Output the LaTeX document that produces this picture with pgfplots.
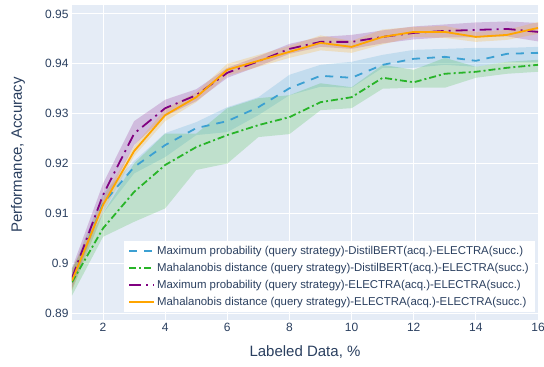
\documentclass[border=0pt]{standalone}
\usepackage{fontspec}
\setmainfont{Liberation Sans}
\usepackage{pgfplots}
\pgfplotsset{compat=1.18}
\usepgfplotslibrary{fillbetween}
\usepackage{pgfplotstable}

\definecolor{bgc}{RGB}{229,236,246}
\definecolor{txt}{RGB}{42,63,95}
\definecolor{cblue}{RGB}{60,160,210}
\definecolor{cgreen}{RGB}{40,180,40}
\definecolor{cpurple}{RGB}{128,0,128}
\definecolor{corange}{RGB}{255,165,0}

\pgfplotstableread{
x m lo hi
1 0.8965 0.8945 0.8985
2 0.9120 0.9100 0.9140
3 0.9193 0.9180 0.9205
4 0.9237 0.9213 0.9261
5 0.9271 0.9257 0.9283
6 0.9285 0.9263 0.9313
7 0.9313 0.9297 0.9333
8 0.9351 0.9337 0.9378
9 0.9376 0.9354 0.9398
10 0.9372 0.9352 0.9404
11 0.9398 0.9392 0.9418
12 0.9410 0.9392 0.9428
13 0.9414 0.9398 0.9430
14 0.9406 0.9394 0.9432
15 0.9420 0.9404 0.9432
16 0.9422 0.9404 0.9434
}\tblue

\pgfplotstableread{
x m lo hi
1 0.8962 0.8935 0.8990
2 0.9070 0.9053 0.9100
3 0.9143 0.9083 0.9200
4 0.9197 0.9110 0.9260
5 0.9233 0.9187 0.9260
6 0.9257 0.9200 0.9311
7 0.9277 0.9253 0.9331
8 0.9293 0.9259 0.9337
9 0.9323 0.9307 0.9361
10 0.9333 0.9311 0.9353
11 0.9372 0.9350 0.9398
12 0.9363 0.9352 0.9388
13 0.9380 0.9352 0.9412
14 0.9384 0.9372 0.9394
15 0.9392 0.9380 0.9404
16 0.9398 0.9384 0.9408
}\tgreen

\pgfplotstableread{
x m lo hi
1 0.8970 0.8950 0.8990
2 0.9137 0.9115 0.9160
3 0.9260 0.9237 0.9285
4 0.9311 0.9295 0.9328
5 0.9337 0.9325 0.9349
6 0.9382 0.9372 0.9392
7 0.9405 0.9395 0.9415
8 0.9430 0.9420 0.9440
9 0.9444 0.9434 0.9454
10 0.9444 0.9430 0.9458
11 0.9454 0.9441 0.9467
12 0.9462 0.9449 0.9475
13 0.9466 0.9453 0.9479
14 0.9468 0.9453 0.9483
15 0.9470 0.9455 0.9485
16 0.9464 0.9445 0.9482
}\tpurple

\pgfplotstableread{
x m lo hi
1 0.8965 0.8945 0.8985
2 0.9117 0.9102 0.9132
3 0.9225 0.9215 0.9235
4 0.9297 0.9285 0.9309
5 0.9333 0.9323 0.9343
6 0.9388 0.9376 0.9400
7 0.9406 0.9394 0.9418
8 0.9424 0.9412 0.9436
9 0.9442 0.9427 0.9457
10 0.9434 0.9422 0.9446
11 0.9454 0.9439 0.9469
12 0.9464 0.9454 0.9474
13 0.9464 0.9452 0.9476
14 0.9454 0.9444 0.9464
15 0.9458 0.9448 0.9468
16 0.9472 0.9460 0.9484
}\torange

\begin{document}
\begin{tikzpicture}
\begin{axis}[
  width=466pt, height=315pt, scale only axis,
  xmin=1, xmax=16, ymin=0.8886, ymax=0.9518,
  axis background/.style={fill=bgc},
  axis line style={draw=none},
  grid=major, major grid style={white, line width=1pt},
  tick style={draw=none},
  xtick={2,4,6,8,10,12,14,16},
  ytick={0.89,0.90,0.91,0.92,0.93,0.94,0.95},
  yticklabels={0.89,0.9,0.91,0.92,0.93,0.94,0.95},
  /pgf/number format/assume math mode=true,
  ticklabel style={font=\fontsize{12}{14}\selectfont, text=txt},
  xlabel={Labeled Data, \%},
  ylabel={Performance, Accuracy},
  label style={font=\fontsize{15}{18}\selectfont, text=txt},
  xlabel style={at={(axis description cs:0.5,-0.1016)}, anchor=center},
  ylabel style={at={(axis description cs:-0.1159,0.524)}, anchor=center},
  legend style={at={(0.9936,0.025)}, anchor=south east, fill=white, draw=none,
    font=\fontsize{11.4}{13}\selectfont, text=txt, row sep=3.3pt, inner xsep=4pt, inner ysep=3pt},
  legend cell align=left,
  legend image code/.code={\draw[#1, line width=1.8pt] (0pt,0pt) -- (25pt,0pt);},
]
% bands
\addplot[draw=none, name path=bu, forget plot] table[x=x,y=hi]{\tblue};
\addplot[draw=none, name path=bl, forget plot] table[x=x,y=lo]{\tblue};
\addplot[fill=cblue, fill opacity=0.2, draw=none, forget plot] fill between[of=bu and bl];
\addplot[draw=none, name path=gu, forget plot] table[x=x,y=hi]{\tgreen};
\addplot[draw=none, name path=gl, forget plot] table[x=x,y=lo]{\tgreen};
\addplot[fill=cgreen, fill opacity=0.2, draw=none, forget plot] fill between[of=gu and gl];
\addplot[draw=none, name path=pu, forget plot] table[x=x,y=hi]{\tpurple};
\addplot[draw=none, name path=pl, forget plot] table[x=x,y=lo]{\tpurple};
\addplot[fill=cpurple, fill opacity=0.2, draw=none, forget plot] fill between[of=pu and pl];
\addplot[draw=none, name path=ou, forget plot] table[x=x,y=hi]{\torange};
\addplot[draw=none, name path=ol, forget plot] table[x=x,y=lo]{\torange};
\addplot[fill=corange, fill opacity=0.2, draw=none, forget plot] fill between[of=ou and ol];
% lines
\addplot[cblue, line width=1.8pt, dash pattern=on 8pt off 7pt] table[x=x,y=m]{\tblue};
\addlegendentry{Maximum probability (query strategy)-DistilBERT(acq.)-ELECTRA(succ.)}
\addplot[cgreen, line width=1.8pt, dash pattern=on 7pt off 3pt on 2pt off 3pt] table[x=x,y=m]{\tgreen};
\addlegendentry{Mahalanobis distance (query strategy)-DistilBERT(acq.)-ELECTRA(succ.)}
\addplot[cpurple, line width=1.8pt, dash pattern=on 12pt off 5pt on 2pt off 5pt] table[x=x,y=m]{\tpurple};
\addlegendentry{Maximum probability (query strategy)-ELECTRA(acq.)-ELECTRA(succ.)}
\addplot[corange, line width=1.8pt] table[x=x,y=m]{\torange};
\addlegendentry{Mahalanobis distance (query strategy)-ELECTRA(acq.)-ELECTRA(succ.)}
\end{axis}
\pgfresetboundingbox
\useasboundingbox (-72pt,-47pt) rectangle (472pt,320pt);
\end{tikzpicture}
\end{document}
